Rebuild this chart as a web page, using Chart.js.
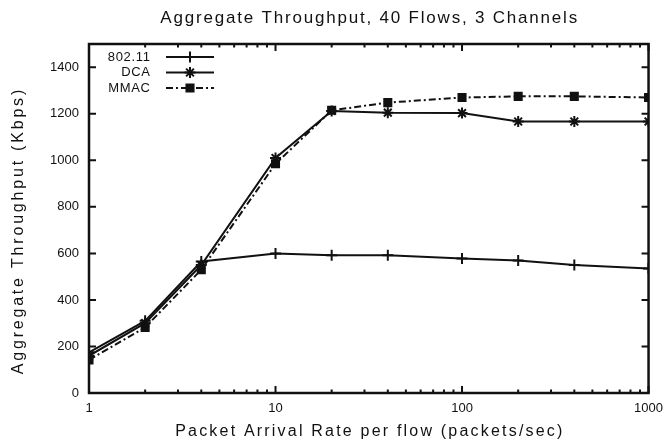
<!DOCTYPE html>
<html>
<head>
<meta charset="utf-8">
<script src="https://cdn.jsdelivr.net/npm/chart.js@4.4.1/dist/chart.umd.min.js"></script>
<style>
  html, body { margin: 0; padding: 0; background: #fff; }
  #wrap { width: 671px; height: 443px; }
</style>
</head>
<body>
<div id="wrap"><canvas id="c" width="671" height="443"></canvas></div>
<script>
const chartTitle = "Aggregate Throughput, 40 Flows, 3 Channels";
const xTitle = "Packet Arrival Rate per flow (packets/sec)";
const yTitle = "Aggregate Throughput (Kbps)";
const seriesNames = ["802.11", "DCA", "MMAC"];
const rates = [1, 2, 4, 10, 20, 40, 100, 200, 400, 1000];
const thr80211 = [175, 310, 565, 600, 592, 592, 578, 570, 550, 535];
const thrDCA   = [160, 300, 550, 1010, 1212, 1205, 1203, 1167, 1167, 1167];
const thrMMAC  = [142, 282, 530, 985, 1215, 1248, 1270, 1275, 1275, 1270];
const xTickLabels = [1, 10, 100, 1000];
const yTickLabels = [0, 200, 400, 600, 800, 1000, 1200, 1400];

const FONT = "'Liberation Sans', Arial, sans-serif";
const INK = "#111";

function toPts(vals) { return rates.map((x, i) => ({ x: x, y: vals[i] })); }

const styles = [
  { pointStyle: 'cross', dash: [], radius: 5.5 },
  { pointStyle: 'star', dash: [], radius: 5.5 },
  { pointStyle: 'rect', dash: [7, 3, 2, 3], radius: 5 }
];
const seriesData = [thr80211, thrDCA, thrMMAC];

const datasets = seriesNames.map((name, i) => ({
  label: name,
  data: toPts(seriesData[i]),
  borderColor: INK,
  backgroundColor: INK,
  borderWidth: 2,
  borderDash: styles[i].dash,
  pointStyle: styles[i].pointStyle,
  pointRadius: styles[i].radius,
  pointBorderWidth: 2,
  pointBorderColor: INK,
  pointBackgroundColor: INK,
  tension: 0,
  fill: false
}));

function spacedText(ctx, text, x, y, spacing) {
  ctx.letterSpacing = spacing + 'px';
  const off = ctx.textAlign === 'center' ? spacing / 2 : (ctx.textAlign === 'right' ? spacing : 0);
  ctx.fillText(text, x + off, y);
  ctx.letterSpacing = '0px';
}

const framePlugin = {
  id: 'frame',
  afterDatasetsDraw(chart) {
    const ctx = chart.ctx;
    const a = chart.chartArea;
    const xs = chart.scales.x, ys = chart.scales.y;
    ctx.save();
    ctx.strokeStyle = INK;
    ctx.setLineDash([]);
    // ticks
    ctx.lineWidth = 2;
    ctx.beginPath();
    yTickLabels.forEach(v => {
      const y = ys.getPixelForValue(v);
      ctx.moveTo(a.left, y); ctx.lineTo(a.left + 7, y);
      ctx.moveTo(a.right, y); ctx.lineTo(a.right - 7, y);
    });
    for (let d = 1; d <= 1000; d *= 10) {
      for (let m = 1; m <= 9; m++) {
        const v = d * m;
        if (v > 1000) break;
        const x = xs.getPixelForValue(v);
        const len = (m === 1) ? 7 : 3.5;
        ctx.moveTo(x, a.bottom); ctx.lineTo(x, a.bottom - len);
        ctx.moveTo(x, a.top); ctx.lineTo(x, a.top + len);
      }
    }
    ctx.stroke();
    // border
    ctx.lineWidth = 2.5;
    ctx.strokeRect(a.left, a.top, a.right - a.left, a.bottom - a.top);
    // legend
    ctx.font = "13px " + FONT;
    ctx.fillStyle = INK;
    ctx.textAlign = 'right';
    ctx.textBaseline = 'middle';
    const rowY = [a.top + 13, a.top + 28.5, a.top + 44];
    chart.data.datasets.forEach((ds, i) => {
      const y = rowY[i];
      spacedText(ctx, ds.label, a.left + 61, y, 0.7);
      ctx.lineWidth = 2;
      ctx.setLineDash(ds.borderDash);
      ctx.beginPath();
      ctx.moveTo(a.left + 77, y); ctx.lineTo(a.left + 125, y);
      ctx.stroke();
      ctx.setLineDash([]);
      Chart.helpers.drawPoint(ctx, {
        pointStyle: ds.pointStyle, radius: ds.pointRadius, borderWidth: 2, rotation: 0
      }, a.left + 101, y);
    });
    // titles
    const cx = (a.left + a.right) / 2;
    ctx.textAlign = 'center';
    ctx.textBaseline = 'middle';
    ctx.font = "17px " + FONT;
    spacedText(ctx, chartTitle, cx, 18, 1.8);
    ctx.font = "16px " + FONT;
    spacedText(ctx, xTitle, cx, 432, 2.2);
    ctx.save();
    ctx.translate(19, 232);
    ctx.rotate(-Math.PI / 2);
    spacedText(ctx, yTitle, 0, 0, 2.8);
    ctx.restore();
    ctx.restore();
  }
};

new Chart(document.getElementById('c'), {
  type: 'line',
  data: { datasets: datasets },
  plugins: [framePlugin],
  options: {
    responsive: false,
    animation: false,
    devicePixelRatio: 1,
    layout: { padding: { left: 0, right: 21, top: 44, bottom: 0 } },
    plugins: {
      legend: { display: false },
      tooltip: { enabled: false },
      title: { display: false }
    },
    scales: {
      x: {
        type: 'logarithmic',
        min: 1, max: 1000,
        grid: { display: false, drawTicks: false },
        border: { display: false },
        afterBuildTicks(s) { s.ticks = xTickLabels.map(v => ({ value: v, major: true })); },
        afterFit(s) { s.height = 50; },
        ticks: {
          color: INK, font: { family: FONT, size: 13 }, padding: 8,
          maxRotation: 0, autoSkip: false,
          callback: (v) => String(v)
        }
      },
      y: {
        type: 'linear',
        min: 0, max: 1500,
        grid: { display: false, drawTicks: false },
        border: { display: false },
        afterBuildTicks(s) { s.ticks = yTickLabels.map(v => ({ value: v })); },
        afterFit(s) { s.width = 89; },
        ticks: {
          color: INK, font: { family: FONT, size: 13 }, padding: 10,
          autoSkip: false, callback: (v) => String(v)
        }
      }
    }
  }
});
</script>
</body>
</html>
